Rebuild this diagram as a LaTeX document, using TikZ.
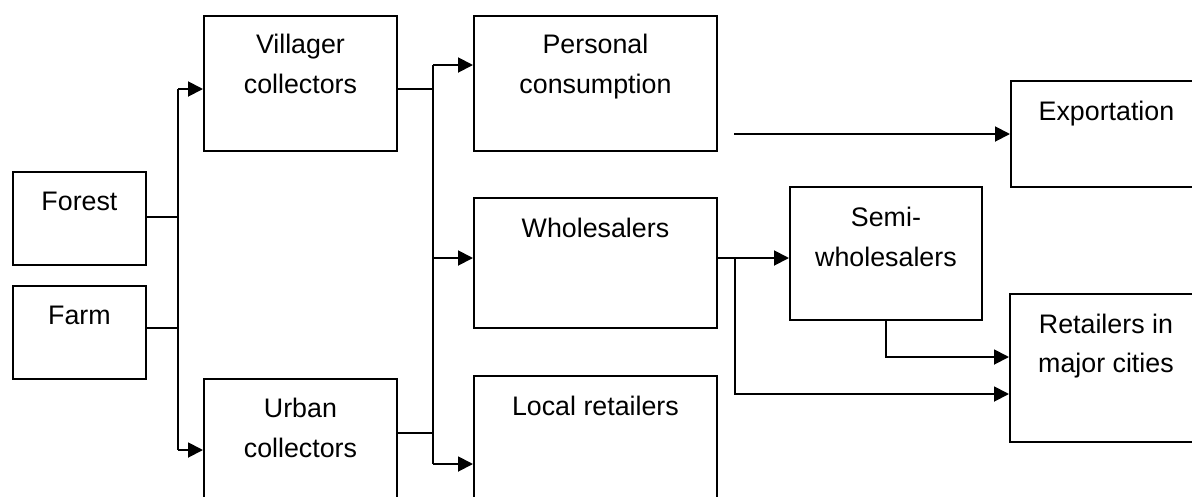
\documentclass[tikz,border=0pt]{standalone}
\usepackage{fontspec}
\setmainfont{Liberation Sans}
\usetikzlibrary{arrows.meta,calc}
\begin{document}
\begin{tikzpicture}[x=1pt,y=-1pt,
  box/.style={draw, line width=1.9pt, rectangle, inner sep=0pt, anchor=north west},
  lbl/.style={anchor=north, inner sep=0pt, align=center, font=\fontsize{26.8}{39.5}\selectfont},
  conn/.style={line width=1.9pt},
  arr/.style={conn, -{Triangle[length=15pt,width=15pt]}}]
\useasboundingbox (0,0) rectangle (1192,496);
\begin{scope}
\clip (0,0) rectangle (1192,496);
% boxes
\node[box, minimum width=133pt, minimum height=93pt] (forest) at (12,171) {};
\node[box, minimum width=133pt, minimum height=93pt] (farm) at (12,285) {};
\node[box, minimum width=193pt, minimum height=135pt] (villager) at (203,15) {};
\node[box, minimum width=193pt, minimum height=150pt] (urban) at (203,378) {};
\node[box, minimum width=243pt, minimum height=135pt] (personal) at (473,15) {};
\node[box, minimum width=243pt, minimum height=130pt] (whole) at (473,197) {};
\node[box, minimum width=243pt, minimum height=150pt] (local) at (473,375) {};
\node[box, minimum width=192pt, minimum height=133pt] (semi) at (789,186) {};
\node[box, minimum width=191pt, minimum height=106pt] (export) at (1010,80) {};
\node[box, minimum width=192pt, minimum height=148pt] (retail) at (1009,293) {};
% labels
\node[lbl] (forest-t) at ([yshift=-20.5pt]forest.north) {Forest};
\node[lbl] (farm-t) at ([yshift=-20.5pt]farm.north) {Farm};
\node[lbl] (villager-t) at ([yshift=-19pt]villager.north) {Villager\\collectors};
\node[lbl] (urban-t) at ([yshift=-20pt]urban.north) {Urban\\collectors};
\node[lbl] (personal-t) at ([yshift=-19pt]personal.north) {Personal\\consumption};
\node[lbl] (whole-t) at ([yshift=-21pt]whole.north) {Wholesalers};
\node[lbl] (local-t) at ([yshift=-21pt]local.north) {Local retailers};
\node[lbl] (semi-t) at ([yshift=-21pt]semi.north) {Semi-\\wholesalers};
\node[lbl] (export-t) at ([yshift=-21pt]export.north) {Exportation};
\node[lbl] (retail-t) at ([yshift=-20.5pt]retail.north) {Retailers in\\major cities};
% first bus
\coordinate (ja) at (178,89);
\coordinate (jb) at (178,450);
\draw[conn] ([yshift=1.5pt]forest.east) -- ([yshift=1.5pt]forest.east -| ja);
\draw[conn] ([yshift=4.5pt]farm.east) -- ([yshift=4.5pt]farm.east -| ja);
\draw[conn] (ja) -- (jb);
\draw[arr] (ja) -- (ja -| villager.west);
\draw[arr] (jb) -- (jb -| urban.west);
% second bus
\coordinate (jc) at (433,65);
\coordinate (jd) at (433,464);
\coordinate (uo) at (433,433);
\coordinate (jw) at (433,258);
\draw[conn] (villager.east |- ja) -- (jc |- ja);
\draw[conn] (urban.east |- uo) -- (uo);
\draw[conn] (jc) -- (jd);
\draw[arr] (jc) -- (jc -| personal.west);
\draw[arr] (jw) -- (jw -| whole.west);
\draw[arr] (jd) -- (jd -| local.west);
% exportation
\coordinate (free) at (734,134);
\draw[arr] (free) -- (free -| export.west);
% wholesalers outputs
\coordinate (wo) at (735,258);
\coordinate (wd) at (735,394);
\draw[arr] (whole.east |- wo) -- (wo -| semi.west);
\draw[arr] (wo) -- (wd) -- (wd -| retail.west);
\coordinate (sd) at (886,357);
\draw[arr] (semi.south -| sd) -- (sd) -- (sd -| retail.west);
\end{scope}
\end{tikzpicture}
\end{document}
